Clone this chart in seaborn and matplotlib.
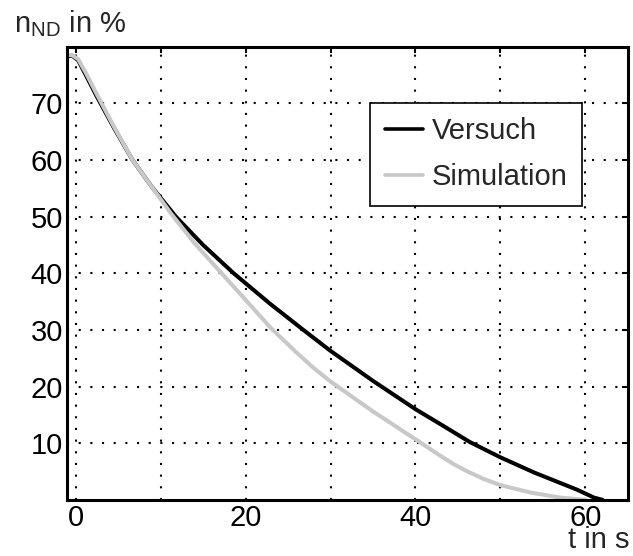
import numpy as np
import pandas as pd
import seaborn as sns
import matplotlib.pyplot as plt

t_versuch = [-1, -0.4, 0.3, 1.2, 2.5, 4.5, 6.7, 9, 11.8, 15, 18.6, 22.9, 26.8, 30,
             35, 40, 43, 46.4, 50, 54, 57, 59, 61, 62]
n_versuch = [78.3, 78.4, 77.6, 75.0, 71.2, 65.7, 60.0, 55.2, 50.0, 45.0, 40.0, 34.6,
             30.0, 26.3, 21.0, 16.0, 13.3, 10.2, 7.5, 4.8, 3.0, 1.8, 0.4, 0.0]

# Simulation
t_sim = [-1, -0.4, 0.3, 1.2, 2.5, 4.5, 6.7, 9, 11.2, 14, 17.3, 20, 23, 26, 28,
         30, 35, 40, 43, 44.5, 46, 48, 50, 53.5, 57, 60]
n_sim = [78.5, 78.5, 77.8, 75.4, 71.6, 65.9, 60.0, 55.2, 50.6, 45.3, 39.8, 35.3,
         30.3, 26.0, 23.3, 20.9, 15.6, 10.7, 7.7, 6.3, 5.1, 3.7, 2.6, 1.3, 0.4, 0.0]

x_ticks = [0, 10, 20, 30, 40, 50, 60]
x_labels = ['0', '', '20', '', '40', '', '60']
y_ticks = [10, 20, 30, 40, 50, 60, 70]

df = pd.concat([
    pd.DataFrame({'t': t_versuch, 'n': n_versuch, 'Kurve': 'Versuch'}),
    pd.DataFrame({'t': t_sim, 'n': n_sim, 'Kurve': 'Simulation'}),
], ignore_index=True)

sns.set_style('white')
plt.rcParams['font.family'] = ['Liberation Sans', 'DejaVu Sans']
plt.rcParams['mathtext.default'] = 'regular'

fig = plt.figure(figsize=(6.33, 5.56), dpi=100)
ax = fig.add_axes([0.106, 0.101, 0.886, 0.815])

sns.lineplot(data=df, x='t', y='n', hue='Kurve', sort=False,
             palette={'Versuch': 'black', 'Simulation': '#c8c8c8'},
             ax=ax)

# line widths, grey curve on top like in the original
for line in ax.get_lines():
    if line.get_label() == 'Simulation':
        line.set_zorder(3)
        line.set_linewidth(2.4)
    else:
        line.set_linewidth(2.9)
    line.set_solid_joinstyle('round')

ax.set_xlim(-1, 65)
ax.set_ylim(0, 80)
ax.set_xticks(x_ticks)
ax.set_xticklabels(x_labels)
ax.set_yticks(y_ticks)
ax.set_xlabel('')
ax.set_ylabel('')
ax.grid(True, color='black', linestyle=(0, (1, 4.6)), linewidth=1.5)
ax.tick_params(direction='in', length=4, width=1.5, labelsize=21, pad=3,
               colors='black', top=True, right=True)
for sp in ax.spines.values():
    sp.set_linewidth(2.2)
    sp.set_color('black')

leg = ax.legend(loc='upper right', bbox_to_anchor=(0.918, 0.876), fontsize=21,
                frameon=True, fancybox=False, handlelength=1.3, handletextpad=0.3,
                borderpad=0.5, labelspacing=0.6, borderaxespad=0)
leg.get_frame().set_edgecolor('black')
leg.get_frame().set_linewidth(1.2)
leg.get_frame().set_alpha(1)
for h in leg.get_lines():
    h.set_linewidth(2.6)

fig.text(0.022, 0.93, r'n$_{ND}$ in %', fontsize=21, ha='left', va='bottom')
fig.text(0.995, 0.003, 't in s', fontsize=21, ha='right', va='bottom')

fig.savefig('out.png', dpi=100)
